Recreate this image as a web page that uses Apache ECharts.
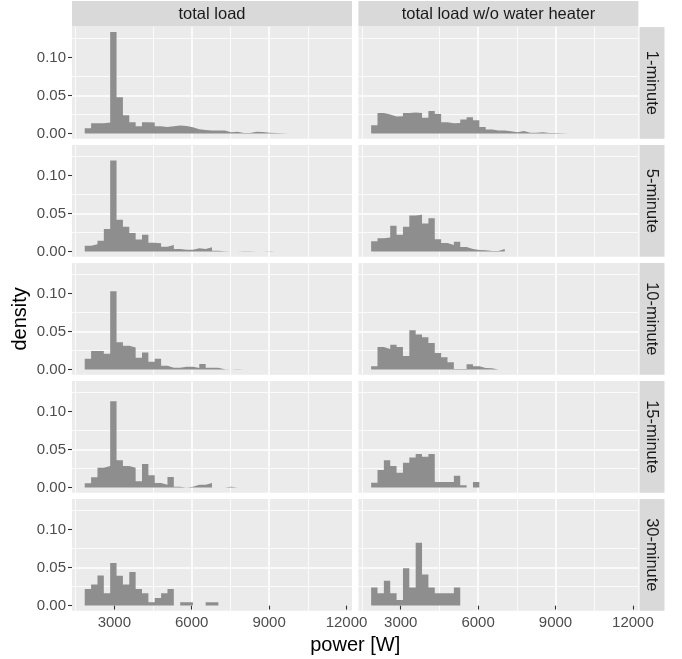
<!DOCTYPE html>
<html>
<head>
<meta charset="utf-8">
<script src="https://cdn.jsdelivr.net/npm/echarts@6/dist/echarts.min.js"></script>
<style>
html,body{margin:0;padding:0;background:#fff;}
#chart{width:682px;height:659px;}
</style>
</head>
<body>
<div id="chart"></div>
<script>
// ---- data ----
const colLabels = ['total load', 'total load w/o water heater'];
const rowLabels = ['1-minute', '5-minute', '10-minute', '15-minute', '30-minute'];
const xTickValues = [3000, 6000, 9000, 12000];
const yTickValues = [0, 0.05, 0.10];
const binStart = 1853;   // W, left edge of first bin
const binWidth = 246.7;  // W

const total1 = [0.007, 0.0136, 0.0136, 0.0145, 0.1333, 0.0478, 0.0241, 0.0149, 0.0096, 0.0149, 0.0145, 0.0096, 0.0088, 0.0096, 0.0105, 0.01, 0.0083, 0.0057, 0.0048, 0.004, 0.004, 0.004, 0.0018, 0.0026, 0.0009, 0.0009, 0.0026, 0.0022, 0.0013, 0.0009, 0.0004, 0.0003, 0.0003, 0.0002, 0.0002, 0.0002, 0.0002, 0.0002, 0.0002, 0.0002];
const noWH1 = [0.011, 0.0272, 0.025, 0.0224, 0.0228, 0.0272, 0.0276, 0.0272, 0.021, 0.0298, 0.0259, 0.0149, 0.0136, 0.014, 0.0184, 0.0215, 0.0175, 0.0088, 0.0053, 0.004, 0.004, 0.003, 0.0018, 0.0035, 0.0013, 0.0013, 0.0018, 0.0009, 0.0009, 0.0004, 0.0003, 0.0003];
const total5 = [0.0078, 0.0096, 0.0143, 0.0296, 0.1196, 0.042, 0.0326, 0.0243, 0.016, 0.022, 0.0117, 0.011, 0.0065, 0.0087, 0.0035, 0.0026, 0.0026, 0.0043, 0.0035, 0.0056, 0.0013, 0.0004, 0, 0, 0.0004, 0.0004, 0, 0, 0.0004, 0, 0, 0.0004];
const noWH5 = [0.0135, 0.0174, 0.0187, 0.0339, 0.0222, 0.0326, 0.0474, 0.0483, 0.037, 0.0439, 0.0161, 0.0113, 0.0087, 0.013, 0.0061, 0.0035, 0.0022, 0.0017, 0.0009, 0.0009, 0.0035, 0, 0.0004];
const total10 = [0.0143, 0.0243, 0.0243, 0.0209, 0.103, 0.0361, 0.0313, 0.0291, 0.0157, 0.0226, 0.0104, 0.0143, 0.0052, 0.0026, 0.0026, 0.0039, 0.0039, 0.0022, 0.0074, 0.0026, 0.0026, 0.0004, 0, 0.0004, 0, 0, 0, 0, 0, 0.0004];
const noWH10 = [0.0043, 0.0296, 0.027, 0.0326, 0.0296, 0.0178, 0.0517, 0.046, 0.0426, 0.0348, 0.0217, 0.0161, 0.0096, 0.0009, 0.0009, 0.007, 0.0043, 0.0022, 0.0017, 0, 0, 0.0013];
const total15 = [0.0057, 0.0135, 0.0261, 0.0283, 0.1135, 0.0361, 0.0283, 0.0261, 0.0083, 0.0309, 0.0161, 0.0061, 0.0039, 0.0139, 0.0013, 0, 0.0013, 0.0039, 0.0039, 0.0061, 0, 0, 0.0013, 0, 0, 0, 0, 0, 0.0013];
const noWH15 = [0.0065, 0.023, 0.0361, 0.0283, 0.0196, 0.0326, 0.0396, 0.0443, 0.0404, 0.0443, 0.0074, 0.0074, 0.0074, 0.0157, 0.003, 0, 0.0074, 0, 0.0026];
const total30 = [0.0217, 0.0278, 0.0396, 0.0161, 0.0561, 0.0391, 0.0278, 0.0443, 0.0217, 0.0161, 0.0043, 0.01, 0.0161, 0.0217, 0, 0.0043, 0.0043, 0, 0, 0.0043, 0.0043];
const noWH30 = [0.0239, 0.0161, 0.0326, 0.0161, 0.0074, 0.0491, 0.0239, 0.0826, 0.0409, 0.0239, 0.0161, 0.0161, 0.0161, 0.0239];

const panels = [
  [total1, noWH1],
  [total5, noWH5],
  [total10, noWH10],
  [total15, noWH15],
  [total30, noWH30]
];

// ---- layout ----
const colLeft = [72, 358.4];
const panelW = 280;
const panelTop0 = 27;
const panelH = 111.7;
const rowStep = 118;
const xMin = 1359.6, xMax = 12213;
const yMin = -0.00667, yMax = 0.14;
const FONT = '"Liberation Sans", Arial, sans-serif';
const BAR = '#8E8E8E';

const grids = [], xAxes = [], yAxes = [], series = [], graphics = [];

for (let r = 0; r < 5; r++) {
  for (let c = 0; c < 2; c++) {
    const idx = r * 2 + c;
    const top = panelTop0 + r * rowStep;
    grids.push({
      left: colLeft[c], top: top, width: panelW, height: panelH,
      show: true, backgroundColor: '#EBEBEB', borderWidth: 0
    });
    const bottomRow = (r === 4);
    xAxes.push({
      type: 'value', gridIndex: idx, min: xMin, max: xMax, splitNumber: 4,
      axisLine: { show: false },
      axisTick: { show: bottomRow, customValues: xTickValues, length: 4, lineStyle: { color: '#333333', width: 1.1 } },
      axisLabel: {
        show: bottomRow, customValues: xTickValues, margin: 5,
        color: '#4D4D4D', fontSize: 15, fontFamily: FONT,
        formatter: v => String(v)
      },
      splitLine: { show: true, showMinLine: false, showMaxLine: false, lineStyle: { color: '#FFFFFF', width: 1.6 } },
      minorTick: { show: false, splitNumber: 2 },
      minorSplitLine: { show: true, lineStyle: { color: '#FFFFFF', width: 0.8 } }
    });
    yAxes.push({
      type: 'value', gridIndex: idx, min: yMin, max: yMax, splitNumber: 3,
      axisLine: { show: false },
      axisTick: { show: c === 0, customValues: yTickValues, length: 4, lineStyle: { color: '#333333', width: 1.1 } },
      axisLabel: {
        show: c === 0, customValues: yTickValues, margin: 6,
        color: '#4D4D4D', fontSize: 15, fontFamily: FONT,
        formatter: v => v.toFixed(2)
      },
      splitLine: { show: true, showMinLine: false, showMaxLine: false, lineStyle: { color: '#FFFFFF', width: 1.6 } },
      minorTick: { show: false, splitNumber: 2 },
      minorSplitLine: { show: true, lineStyle: { color: '#FFFFFF', width: 0.8 } }
    });
    // histogram as a stepped area: one point per bin left edge, closing at the last right edge
    const arr = panels[r][c];
    const data = arr.map((d, i) => [binStart + i * binWidth, d]);
    data.push([binStart + arr.length * binWidth, 0]);
    series.push({
      type: 'line', xAxisIndex: idx, yAxisIndex: idx,
      step: 'end', showSymbol: false, symbol: 'none', silent: true,
      lineStyle: { width: 0, opacity: 0 },
      areaStyle: { color: BAR, opacity: 1, origin: 0 },
      data: data
    });
  }
  // right strip
  const top = panelTop0 + r * rowStep;
  graphics.push({
    type: 'rect', shape: { x: 639.5, y: top, width: 25, height: panelH },
    style: { fill: '#D9D9D9' }, silent: true
  });
  graphics.push({
    type: 'text', x: 652, y: top + panelH / 2, rotation: -Math.PI / 2,
    style: { text: rowLabels[r], font: '16.5px ' + FONT, fill: '#1A1A1A', align: 'center', verticalAlign: 'middle' },
    silent: true
  });
}
// top strips
for (let c = 0; c < 2; c++) {
  graphics.push({
    type: 'rect', shape: { x: colLeft[c], y: 1, width: panelW, height: 25.5 },
    style: { fill: '#D9D9D9' }, silent: true
  });
  graphics.push({
    type: 'text', x: colLeft[c] + panelW / 2, y: 14,
    style: { text: colLabels[c], font: '16.5px ' + FONT, fill: '#1A1A1A', align: 'center', verticalAlign: 'middle' },
    silent: true
  });
}
// axis titles
graphics.push({
  type: 'text', x: (colLeft[0] + colLeft[1] + panelW) / 2, y: 645,
  style: { text: 'power [W]', font: '20px ' + FONT, fill: '#000000', align: 'center', verticalAlign: 'middle' },
  silent: true
});
graphics.push({
  type: 'text', x: 20, y: panelTop0 + (4 * rowStep + panelH) / 2, rotation: Math.PI / 2,
  style: { text: 'density', font: '20px ' + FONT, fill: '#000000', align: 'center', verticalAlign: 'middle' },
  silent: true
});

const chart = echarts.init(document.getElementById('chart'), null, { renderer: 'canvas' });
chart.setOption({
  animation: false,
  backgroundColor: '#FFFFFF',
  grid: grids,
  xAxis: xAxes,
  yAxis: yAxes,
  series: series,
  graphic: graphics
});
</script>
</body>
</html>
